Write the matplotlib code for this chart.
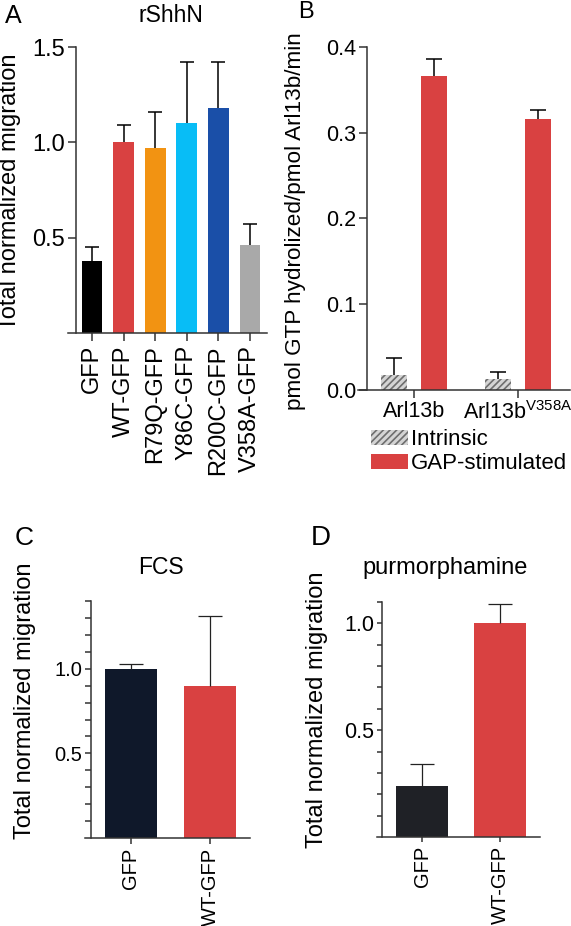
import numpy as np
import matplotlib
matplotlib.use("Agg")
import matplotlib.pyplot as plt
from matplotlib.patches import Patch

plt.rcParams['font.family'] = ['Liberation Sans', 'DejaVu Sans']
plt.rcParams['hatch.linewidth'] = 1.2

W, H = 571, 926

# panel A - rShhN
a_labels = ["GFP", "WT-GFP", "R79Q-GFP", "Y86C-GFP", "R200C-GFP", "V358A-GFP"]
a_vals = [0.38, 1.00, 0.97, 1.10, 1.18, 0.46]
a_err = [0.07, 0.09, 0.19, 0.32, 0.24, 0.11]
a_colors = ["#000000", "#d94141", "#f29312", "#08bdf6", "#1a4fa8", "#a9a9a9"]

# panel B - GAP assay
b_groups = ["Arl13b", r"Arl13b$^{\mathregular{V358A}}$"]
b_intrinsic = [0.018, 0.013]
b_intrinsic_err = [0.019, 0.008]
b_gap = [0.366, 0.316]
b_gap_err = [0.020, 0.010]

# panel C - FCS
c_labels = ["GFP", "WT-GFP"]
c_vals = [1.00, 0.90]
c_err = [0.03, 0.41]
c_colors = ["#0f182a", "#d94141"]

# panel D - purmorphamine
d_labels = ["GFP", "WT-GFP"]
d_vals = [0.24, 1.00]
d_err = [0.10, 0.09]
d_colors = ["#1f2126", "#d94141"]

SPINE = "#333333"


def box(l, t, r, b):
    return [l / W, 1 - b / H, (r - l) / W, (b - t) / H]


def style(ax, offset, ticklen, labsize):
    for s in ["top", "right"]:
        ax.spines[s].set_visible(False)
    for s in ["left", "bottom"]:
        ax.spines[s].set_color(SPINE)
        ax.spines[s].set_linewidth(1.1)
    ax.spines['left'].set_position(('axes', offset))
    ax.tick_params(axis='both', length=ticklen, width=1.1, color=SPINE,
                   labelsize=labsize, pad=2)


def up_err(ax, x, y, err, color, lw, cap):
    # only the upper half of the error bar, like prism
    eb = ax.errorbar(x, y, yerr=[np.zeros(len(err)), err], fmt='none',
                     ecolor=color, elinewidth=lw, capsize=cap, capthick=lw)
    eb[1][0].set_visible(False)


fig = plt.figure(figsize=(W / 100, H / 100), dpi=100)

# ---- A ----
axA = fig.add_axes(box(68, 47, 267, 333))
xa = np.arange(len(a_vals))
axA.bar(xa, a_vals, width=0.66, color=a_colors)
up_err(axA, xa, a_vals, a_err, 'black', 1.1, 5)
axA.set_xlim(-0.76, 5.54)
axA.set_ylim(0, 1.5)
axA.set_yticks([0.5, 1.0, 1.5])
axA.set_yticklabels(["0.5", "1.0", "1.5"])
axA.set_xticks(xa)
axA.set_xticklabels(a_labels, rotation=90)
style(axA, 8 / 199, 5.8, 17)
axA.tick_params(axis='x', pad=3)
fig.text(13 / W, 1 - 16 / H, "A", fontsize=18, ha='center', va='center')
fig.text(171 / W, 1 - 16 / H, "rShhN", fontsize=16.5, ha='center', va='center')
fig.text(10 / W, 1 - 192 / H, "Total normalized migration", fontsize=17,
         rotation=90, ha='center', va='center')

# ---- B ----
axB = fig.add_axes(box(358, 47, 570, 390))
xb = np.arange(len(b_groups))
axB.bar(xb - 0.19, b_intrinsic, width=0.25, color="#d4d4d4", edgecolor="#6e6e6e",
        linewidth=0, hatch="/////")
axB.bar(xb + 0.19, b_gap, width=0.25, color="#d94141")
up_err(axB, xb - 0.19, b_intrinsic, b_intrinsic_err, 'black', 1.1, 6)
up_err(axB, xb + 0.19, b_gap, b_gap_err, 'black', 1.1, 6)
axB.set_xlim(-0.54, 1.5)
axB.set_ylim(0, 0.4)
axB.set_yticks([0.0, 0.1, 0.2, 0.3, 0.4])
axB.set_yticklabels(["0.0", "0.1", "0.2", "0.3", "0.4"])
axB.set_xticks(xb)
axB.set_xticklabels(b_groups, fontsize=17)
style(axB, 9 / 212, 5.8, 15.5)
fig.text(306 / W, 1 - 12 / H, "B", fontsize=17, ha='center', va='center')
fig.text(296 / W, 1 - 221 / H, "pmol GTP hydrolized/pmol Arl13b/min", fontsize=16.2,
         rotation=90, ha='center', va='center')
handles = [Patch(facecolor="#d4d4d4", edgecolor="#6e6e6e", linewidth=0, hatch="/////"),
           Patch(facecolor="#d94141")]
fig.legend(handles, ["Intrinsic", "GAP-stimulated"], loc='upper left',
           bbox_to_anchor=(371 / W, 1 - 429 / H), frameon=False, fontsize=16,
           handlelength=1.65, handleheight=0.65, handletextpad=0.15,
           labelspacing=0.15, borderpad=0, borderaxespad=0)

# ---- C ----
axC = fig.add_axes(box(85, 601, 250, 838))
xc = np.arange(len(c_vals))
axC.bar(xc, c_vals, width=0.66, color=c_colors)
up_err(axC, xc, c_vals, c_err, '#222222', 0.9, 8.5)
axC.set_xlim(-0.58, 1.506)
axC.set_ylim(0, 1.4)
c_ticks = np.arange(1, 15) / 10
axC.set_yticks(c_ticks)
axC.set_yticklabels(["0.5" if abs(t - 0.5) < 1e-9 else "1.0" if abs(t - 1) < 1e-9 else ""
                     for t in c_ticks])
axC.set_xticks(xc)
axC.set_xticklabels(c_labels, rotation=90)
style(axC, 6 / 165, 4.3, 14.5)
axC.tick_params(axis='x', labelsize=14.5, pad=3)
fig.text(24 / W, 1 - 538 / H, "C", fontsize=19, ha='center', va='center')
fig.text(161 / W, 1 - 568 / H, "FCS", fontsize=16.5, ha='center', va='center')
fig.text(25 / W, 1 - 701 / H, "Total normalized migration", fontsize=17,
         rotation=90, ha='center', va='center')

# ---- D ----
axD = fig.add_axes(box(377, 602, 540, 837))
xd = np.arange(len(d_vals))
axD.bar(xd, d_vals, width=0.66, color=d_colors)
up_err(axD, xd, d_vals, d_err, '#222222', 0.9, 8.5)
axD.set_xlim(-0.577, 1.513)
axD.set_ylim(0, 1.1)
d_ticks = np.arange(1, 12) / 10
axD.set_yticks(d_ticks)
axD.set_yticklabels(["0.5" if abs(t - 0.5) < 1e-9 else "1.0" if abs(t - 1) < 1e-9 else ""
                     for t in d_ticks])
axD.set_xticks(xd)
axD.set_xticklabels(d_labels, rotation=90)
style(axD, 5 / 163, 3.6, 15.5)
axD.tick_params(axis='x', labelsize=14.5, pad=3)
fig.text(321 / W, 1 - 538 / H, "D", fontsize=20, ha='center', va='center')
fig.text(445 / W, 1 - 568 / H, "purmorphamine", fontsize=17, ha='center', va='center')
fig.text(317 / W, 1 - 710 / H, "Total normalized migration", fontsize=17,
         rotation=90, ha='center', va='center')

fig.savefig("out.png", dpi=100)
